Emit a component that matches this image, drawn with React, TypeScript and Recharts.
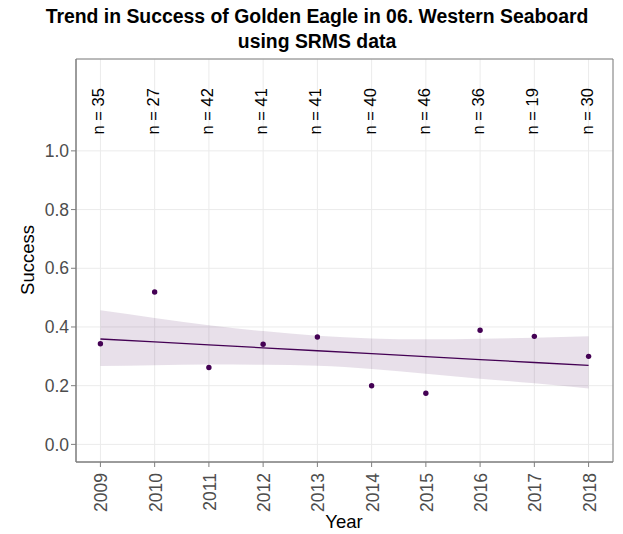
import React from 'react'
import {
  ComposedChart,
  Scatter,
  Line,
  Area,
  XAxis,
  YAxis,
  CartesianGrid,
  ReferenceArea,
} from 'recharts'

// values
const years = [2009, 2010, 2011, 2012, 2013, 2014, 2015, 2016, 2017, 2018]
const success = [0.343, 0.519, 0.262, 0.341, 0.366, 0.2, 0.174, 0.389, 0.368, 0.3]
const nCounts = [35, 27, 42, 41, 41, 40, 46, 36, 19, 30]
const trend = [0.359, 0.349, 0.339, 0.329, 0.319, 0.309, 0.299, 0.289, 0.279, 0.269]
const bandLow = [0.267, 0.27, 0.272, 0.271, 0.268, 0.257, 0.241, 0.224, 0.208, 0.19]
const bandHigh = [0.457, 0.431, 0.406, 0.386, 0.37, 0.361, 0.358, 0.36, 0.363, 0.368]
const yTicks = [0, 0.2, 0.4, 0.6, 0.8, 1.0]

const X_DOMAIN: [number, number] = [2008.55, 2018.45]
const Y_DOMAIN: [number, number] = [-0.06, 1.313]
const N_LABEL_Y = 1.135

const PURPLE = '#440154'
const FONT = '"Liberation Sans", Arial, Helvetica, sans-serif'

const data = years.map((year, i) => ({
  year,
  success: success[i],
  trend: trend[i],
  band: [bandLow[i], bandHigh[i]],
  nPos: N_LABEL_Y,
  n: nCounts[i],
}))

const XTick = (props: any) => {
  const { x, y, payload } = props
  return (
    <text
      transform={`translate(${x},${y}) rotate(-90)`}
      x={-4}
      y={7}
      textAnchor="end"
      fill="#4d4d4d"
      fontSize={17.5}
      fontFamily={FONT}
    >
      {payload.value}
    </text>
  )
}

const NLabel = (props: any) => {
  const { cx, cy, payload } = props
  return (
    <text
      transform={`translate(${cx},${cy}) rotate(-90)`}
      x={0}
      y={4}
      textAnchor="middle"
      fill="#000"
      fontSize={16.5}
      fontFamily={FONT}
    >
      {`n = ${payload.n}`}
    </text>
  )
}

const Dot = (props: any) => {
  const { cx, cy } = props
  return <circle cx={cx} cy={cy} r={2.7} fill={PURPLE} />
}

export default function App() {
  return (
    <div style={{ position: 'relative', width: 623, height: 534, background: '#fff', fontFamily: FONT }}>
      <style>{'body{margin:0}'}</style>
      <div
        style={{
          position: 'absolute',
          left: 0,
          width: 634,
          top: 4,
          textAlign: 'center',
          fontWeight: 'bold',
          fontSize: 19.4,
          lineHeight: '25px',
          color: '#000',
        }}
      >
        Trend in Success of Golden Eagle in 06. Western Seaboard
        <br />
        using SRMS data
      </div>
      <div
        style={{
          position: 'absolute',
          left: 28,
          top: 260,
          transform: 'translate(-50%, -50%) rotate(-90deg)',
          fontSize: 18.5,
          whiteSpace: 'nowrap',
          color: '#000',
        }}
      >
        Success
      </div>
      <div
        style={{
          position: 'absolute',
          left: 344,
          top: 522,
          transform: 'translate(-50%, -50%)',
          fontSize: 18.5,
          whiteSpace: 'nowrap',
          color: '#000',
        }}
      >
        Year
      </div>
      <ComposedChart
        width={623}
        height={534}
        data={data}
        margin={{ top: 59, right: 10, bottom: 0, left: 16 }}
        style={{ position: 'absolute', left: 0, top: 0 }}
      >
        <CartesianGrid stroke="#ebebeb" strokeWidth={1} />
        <XAxis
          dataKey="year"
          type="number"
          domain={X_DOMAIN}
          ticks={years}
          allowDataOverflow
          height={72}
          tickSize={5}
          tick={<XTick />}
          tickLine={{ stroke: '#7f7f7f' }}
          axisLine={{ stroke: '#7f7f7f' }}
          interval={0}
        />
        <YAxis
          type="number"
          domain={Y_DOMAIN}
          ticks={yTicks}
          allowDataOverflow
          width={60}
          tickSize={5}
          tickFormatter={(v: number) => v.toFixed(1)}
          tick={{ fill: '#4d4d4d', fontSize: 17.5, fontFamily: FONT }}
          tickLine={{ stroke: '#7f7f7f' }}
          axisLine={{ stroke: '#7f7f7f' }}
          interval={0}
        />
        <ReferenceArea
          x1={X_DOMAIN[0]}
          x2={X_DOMAIN[1]}
          y1={Y_DOMAIN[0]}
          y2={Y_DOMAIN[1]}
          fill="none"
          stroke="#7f7f7f"
          strokeWidth={1}
        />
        <Area
          dataKey="band"
          type="monotone"
          fill={PURPLE}
          fillOpacity={0.12}
          stroke="none"
          isAnimationActive={false}
        />
        <Line
          dataKey="trend"
          type="linear"
          stroke={PURPLE}
          strokeWidth={1.3}
          dot={false}
          isAnimationActive={false}
        />
        <Scatter dataKey="success" shape={<Dot />} isAnimationActive={false} />
        <Scatter dataKey="nPos" shape={<NLabel />} isAnimationActive={false} />
      </ComposedChart>
    </div>
  )
}
